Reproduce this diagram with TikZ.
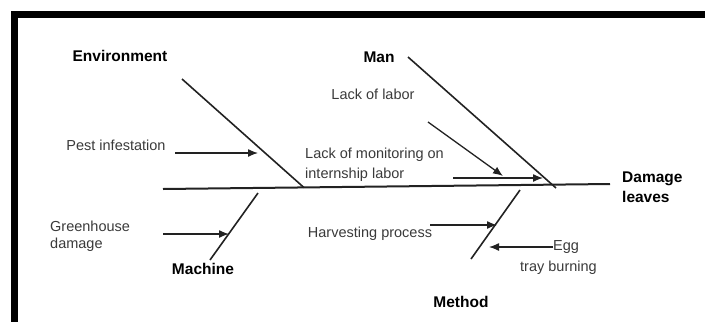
\documentclass[tikz,border=0pt]{standalone}
\usepackage{fontspec}
\setmainfont{Liberation Sans}
\usetikzlibrary{arrows.meta}
\definecolor{ink}{HTML}{222222}
\definecolor{txt}{HTML}{3A3A3A}
\begin{document}
\begin{tikzpicture}[x=1pt,y=-1pt,
  bone/.style={draw=ink,line width=1.6pt},
  cause/.style={draw=ink,line width=1.3pt,-{Latex[length=10pt,width=8pt]}},
  cat/.style={font=\fontsize{15.5}{20}\selectfont\bfseries,text=black,inner sep=0pt,align=left},
  lbl/.style={font=\fontsize{14.5}{20}\selectfont,text=txt,inner sep=0pt,align=left},
]
\useasboundingbox (0,0) rectangle (705,322);
% frame
\fill[black] (11,11) rectangle (705,18);
\fill[black] (11,11) rectangle (18,322);

% spine
\coordinate (tail) at (163,189);
\coordinate (head) at (610,184);
\draw[bone,line width=2pt] (tail) -- (head);
\node[cat,anchor=west] (effect) at (622,187) {Damage\\leaves};

% bones
\coordinate (envE) at (182,79);
\coordinate (envS) at (304,187.6);
\coordinate (manE) at (408,57);
\coordinate (manS) at (556,188);
\coordinate (macE) at (210,260);
\coordinate (macS) at (258,193);
\coordinate (metE) at (471,259);
\coordinate (metS) at (520,190);
\draw[bone] (envE) -- (envS);
\draw[bone] (manE) -- (manS);
\draw[bone] (macE) -- (macS);
\draw[bone] (metE) -- (metS);

% category labels
\node[cat] (env) at (120,56) {Environment};
\node[cat] (man) at (379,57) {Man};
\node[cat] (mac) at (203,269) {Machine};
\node[cat] (met) at (461,302) {Method};

% cause labels
\node[lbl] (pest) at (116,145) {Pest infestation};
\node[lbl] (labor) at (373,94) {Lack of labor};
\node[lbl,anchor=west] (monit) at (305,164.5) {Lack of monitoring on\\internship labor};
\node[lbl,anchor=west,font=\fontsize{14.5}{17}\selectfont] (green) at (50,236) {Greenhouse\\damage};
\node[lbl] (harv) at (370,234) {Harvesting process};
\node[lbl,anchor=west,font=\fontsize{14.5}{21}\selectfont] (egg) at (520,257.5) {\hspace{33pt}Egg\\tray burning};

% cause arrows
\coordinate (pestA) at (175,153);  \coordinate (pestB) at (258,153);
\coordinate (laborA) at (428,122); \coordinate (laborB) at (503,176);
\coordinate (monA) at (453,178);   \coordinate (monB) at (543,178);
\coordinate (greA) at (163,234);   \coordinate (greB) at (229,234);
\coordinate (harA) at (430,225);   \coordinate (harB) at (497,225);
\coordinate (eggA) at (553,247);   \coordinate (eggB) at (489,247);
\draw[cause] (pestA) -- (pestB);
\draw[cause] (laborA) -- (laborB);
\draw[cause] (monA) -- (monB);
\draw[cause] (greA) -- (greB);
\draw[cause] (harA) -- (harB);
\draw[cause] (eggA) -- (eggB);
\end{tikzpicture}
\end{document}
